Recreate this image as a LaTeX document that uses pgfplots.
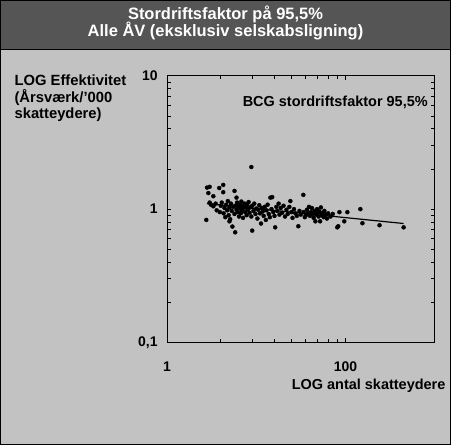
\documentclass[border=0pt]{standalone}
\usepackage{pgfplots}
\pgfplotsset{compat=1.18}
\usepackage{fontspec}
\setmainfont{Liberation Sans}
\definecolor{bggray}{HTML}{C2C2C2}
\definecolor{titlegray}{HTML}{555555}
\begin{document}
\begin{tikzpicture}[x=1pt,y=1pt]
\fill[bggray] (0,0) rectangle (451,-446);
\fill[titlegray] (0,0) rectangle (451,-49);
\draw[line width=0.8pt] (0,-49) -- (451,-49);
\draw[line width=1pt] (0.5,-0.5) rectangle (450.5,-445.5);
\node[white, align=center, font=\bfseries\fontsize{16.5}{18}\selectfont] at (225.5,-23) {Stordriftsfaktor på 95,5\%\\Alle ÅV (eksklusiv selskabsligning)};
\node[anchor=north west, align=left, font=\bfseries\fontsize{14.8}{16.5}\selectfont, inner sep=0pt] at (14,-75) {LOG Effektivitet\\(Årsværk/'000\\skatteydere)};
\node[anchor=north east, font=\bfseries\fontsize{14.5}{16}\selectfont, inner sep=0pt] at (446,-379) {LOG antal skatteydere};
\begin{axis}[
  at={(167pt,-343pt)}, anchor=south west,
  scale only axis, width=268pt, height=267pt,
  xmode=log, ymode=log,
  xmin=1, xmax=1000, ymin=0.1, ymax=10,
  xtick={1,100}, xticklabels={1,100},
  minor xtick={4,9,16,25,36,49,64,81},
  ytick={0.1,1,10}, yticklabels={{0,1},1,10},
  tick align=inside,
  major tick length=4pt, minor tick length=3.5pt,
  every tick/.style={black, line width=0.8pt},
  axis line style={line width=1.1pt},
  ticklabel style={font=\bfseries\fontsize{14}{16}\selectfont},
  xticklabel style={yshift=-16pt},
  yticklabel style={xshift=-6pt},
  axis background/.style={fill=bggray},
  clip=false,
]
\addplot[only marks, mark=*, mark size=2pt, black] coordinates {
(2.75,0.83) (2.8,1.45) (2.9,1.32) (3.0,1.47) (3.0,1.12) (3.1,1.08) (3.3,1.25) (3.3,1.05)
(3.5,1.10) (3.6,0.98) (3.84,1.44) (3.9,0.95) (4.0,1.06) (4.1,1.12) (4.26,1.52) (4.26,1.34)
(4.3,0.93) (4.4,1.02) (4.5,0.87) (4.6,1.08) (4.72,0.98) (4.8,1.15) (4.9,0.90) (5.0,0.81)
(5.0,1.03) (5.1,0.84) (5.2,1.10) (5.3,0.97) (5.4,0.74) (5.5,1.04) (5.7,1.37) (5.7,0.92)
(5.8,0.67) (5.8,1.06) (6.0,1.22) (6.0,0.99) (6.1,1.12) (6.2,0.95) (6.3,1.05) (6.4,0.88)
(6.5,1.08) (6.6,1.01) (6.7,0.93) (6.8,1.14) (6.9,0.97) (7.0,1.06) (7.1,0.86) (7.2,1.02)
(7.4,1.10) (7.5,0.95) (7.6,1.04) (7.8,0.90) (7.9,1.08) (8.0,0.99) (8.2,1.13) (8.4,0.94)
(8.5,1.03) (8.8,2.07) (8.8,0.88) (9.0,0.69) (9.0,1.06) (9.3,0.97) (9.5,1.10) (9.8,0.92)
(10.0,1.01) (10.3,0.85) (10.5,0.99) (10.8,1.07) (11.0,0.93) (11.3,0.78) (11.5,1.02) (11.8,0.96)
(12.1,0.89) (12.4,1.04) (12.8,0.83) (13.0,0.98) (13.4,1.08) (13.8,0.92) (14.2,0.87) (14.4,1.22)
(14.8,1.00) (15.1,1.23) (15.5,0.95) (16.0,0.89) (16.3,0.73) (16.8,1.04) (17.2,0.97) (17.8,1.10)
(18.2,0.91) (18.8,1.02) (19.5,0.94) (20.2,1.06) (21.0,0.88) (21.8,0.99) (22.5,0.92) (23.5,1.04)
(24.1,1.15) (24.8,0.95) (25.5,0.86) (26.5,1.00) (27.5,0.93) (28.5,0.89) (29.6,0.744) (30.5,0.97)
(31.5,0.91) (33.7,1.28) (34.0,0.95) (35.0,0.87) (36.0,0.90) (37.0,0.99) (38.0,0.93) (39.0,1.04)
(40.0,0.89) (41.0,0.95) (42.0,1.02) (43.0,0.92) (44.0,0.86) (45.0,0.97) (46.0,0.81) (47.0,0.91)
(48.0,1.00) (49.0,0.94) (50.0,0.88) (51.0,0.96) (52.0,0.81) (53.0,1.03) (54.0,0.90) (55.0,0.93)
(57.0,0.87) (58.0,0.97) (60.0,0.91) (62.0,0.85) (64.0,0.93) (68.0,0.88) (72.0,0.92) (81.0,0.73)
(83.0,0.744) (85.6,0.949) (97.0,0.81) (105,0.949) (147,1.0) (155,0.784) (241,0.757) (449,0.73)
};
\addplot[black, line width=1.2pt] coordinates {(2.8,1.10) (449,0.78)};
\node[anchor=north east, font=\bfseries\fontsize{14.5}{16}\selectfont, inner sep=0pt] at (rel axis cs:0.975,0.925) {BCG stordriftsfaktor 95,5\%};
\end{axis}
\end{tikzpicture}
\end{document}
